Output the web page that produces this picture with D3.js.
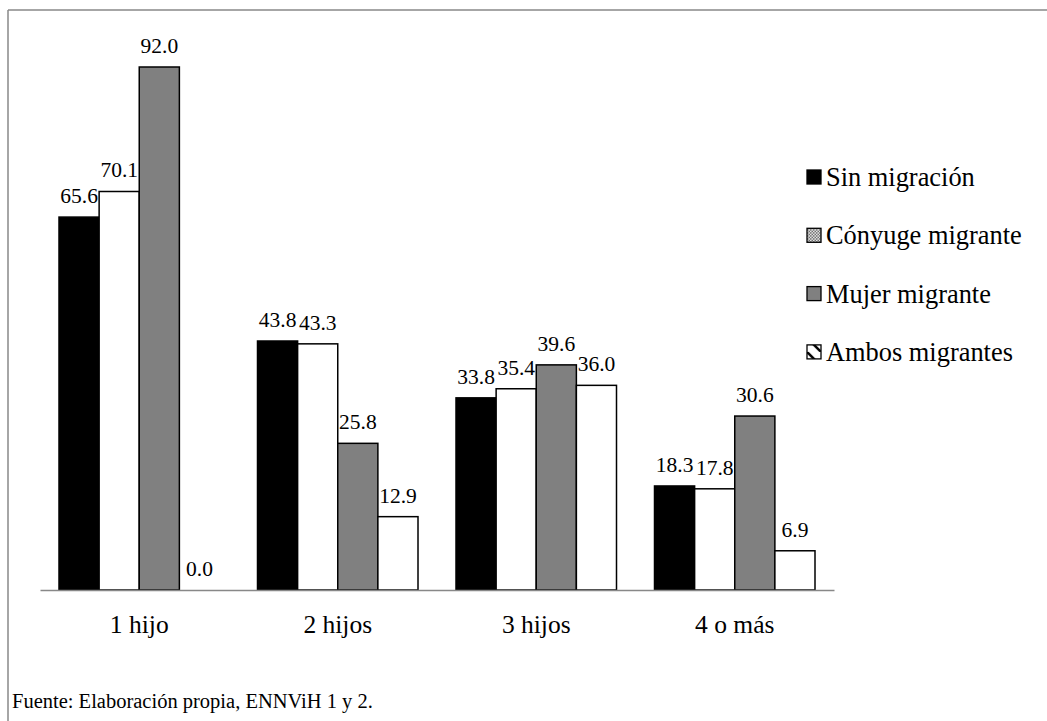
<!DOCTYPE html>
<html>
<head>
<meta charset="utf-8">
<script src="https://cdn.jsdelivr.net/npm/d3@7"></script>
<style>
  html, body { margin: 0; padding: 0; background: #fff; }
  svg { display: block; }
</style>
</head>
<body>
<svg id="chart" width="1047" height="721"></svg>
<script>
// Number of children per household group
const categories = ["1 hijo", "2 hijos", "3 hijos", "4 o más"];
const seriesNames = ["Sin migración", "Cónyuge migrante", "Mujer migrante", "Ambos migrantes"];
const sinMigracion    = [65.6, 43.8, 33.8, 18.3];
const conyugeMigrante = [70.1, 43.3, 35.4, 17.8];
const mujerMigrante   = [92.0, 25.8, 39.6, 30.6];
const ambosMigrantes  = [0.0, 12.9, 36.0, 6.9];
const seriesValues = [sinMigracion, conyugeMigrante, mujerMigrante, ambosMigrantes];
const sourceNote = "Fuente: Elaboración propia, ENNViH 1 y 2.";

const FONT = "Liberation Serif";
const svg = d3.select("#chart");

// Legend swatch patterns
const defs = svg.append("defs");
const check = defs.append("pattern").attr("id", "pat-check")
  .attr("patternUnits", "userSpaceOnUse").attr("width", 3).attr("height", 3);
check.append("rect").attr("width", 3).attr("height", 3).attr("fill", "#fff");
check.append("rect").attr("width", 1.5).attr("height", 1.5).attr("fill", "#555");
check.append("rect").attr("x", 1.5).attr("y", 1.5).attr("width", 1.5).attr("height", 1.5).attr("fill", "#555");
const diag = defs.append("pattern").attr("id", "pat-diag")
  .attr("patternUnits", "userSpaceOnUse").attr("width", 14).attr("height", 14);
diag.append("rect").attr("width", 14).attr("height", 14).attr("fill", "#fff");
diag.append("line").attr("x1", 0).attr("y1", 0).attr("x2", 14).attr("y2", 14)
  .attr("stroke", "#000").attr("stroke-width", 2.5);

const barFills = ["#000000", "#ffffff", "#808080", "#ffffff"];
const legendFills = ["#000000", "url(#pat-check)", "#808080", "url(#pat-diag)"];

// Outer frame (top and left edges)
svg.append("line").attr("x1", 8).attr("y1", 10).attr("x2", 1047).attr("y2", 10)
  .attr("stroke", "#888").attr("stroke-width", 1.5);
svg.append("line").attr("x1", 8).attr("y1", 10).attr("x2", 8).attr("y2", 721)
  .attr("stroke", "#888").attr("stroke-width", 1.5);

const plotLeft = 40, plotRight = 834, baseline = 590;
const x0 = d3.scaleBand().domain(categories).range([plotLeft, plotRight]).paddingInner(0).paddingOuter(0);
const innerPad = 19;
const x1 = d3.scaleBand().domain(d3.range(seriesNames.length))
  .range([innerPad, x0.bandwidth() - innerPad]).padding(0);
const y = d3.scaleLinear().domain([0, 92]).range([baseline, 67]);

const groups = svg.append("g").selectAll("g")
  .data(categories).join("g")
  .attr("transform", d => `translate(${x0(d)},0)`);

groups.each(function(cat, ci) {
  const g = d3.select(this);
  seriesValues.forEach((vals, si) => {
    const v = vals[ci];
    if (v > 0) {
      g.append("rect")
        .attr("x", x1(si)).attr("width", x1.bandwidth())
        .attr("y", y(v)).attr("height", y(0) - y(v))
        .attr("fill", barFills[si]).attr("stroke", "#000").attr("stroke-width", 1.5);
    }
    g.append("text")
      .attr("x", x1(si) + x1.bandwidth() / 2)
      .attr("y", y(v) - 14)
      .attr("text-anchor", "middle")
      .style("font-family", FONT)
      .style("font-size", "21.5px")
      .attr("fill", "#000")
      .text(v.toFixed(1));
  });
});

// Category axis
const axis = svg.append("g").attr("transform", `translate(0,${baseline})`)
  .call(d3.axisBottom(x0).tickSize(0).tickPadding(0));
axis.select(".domain").attr("stroke", "#888").attr("stroke-width", 1.5);
axis.selectAll("text")
  .attr("y", 43).attr("dy", null)
  .style("font-family", FONT).style("font-size", "25.5px").attr("fill", "#000");

// Legend
const legend = svg.append("g").attr("transform", "translate(807,177)");
seriesNames.forEach((name, i) => {
  const row = legend.append("g").attr("transform", `translate(0,${i * 58.3})`);
  row.append("rect").attr("x", 0).attr("y", -7).attr("width", 14).attr("height", 14)
    .attr("fill", legendFills[i]).attr("stroke", "#000").attr("stroke-width", 1.3);
  row.append("text").attr("x", 19).attr("y", 9)
    .style("font-family", FONT).style("font-size", "26.4px").attr("fill", "#000").text(name);
});

// Source note
svg.append("text").attr("x", 12).attr("y", 708)
  .style("font-family", FONT).style("font-size", "20.5px").attr("fill", "#000").text(sourceNote);
</script>
</body>
</html>
